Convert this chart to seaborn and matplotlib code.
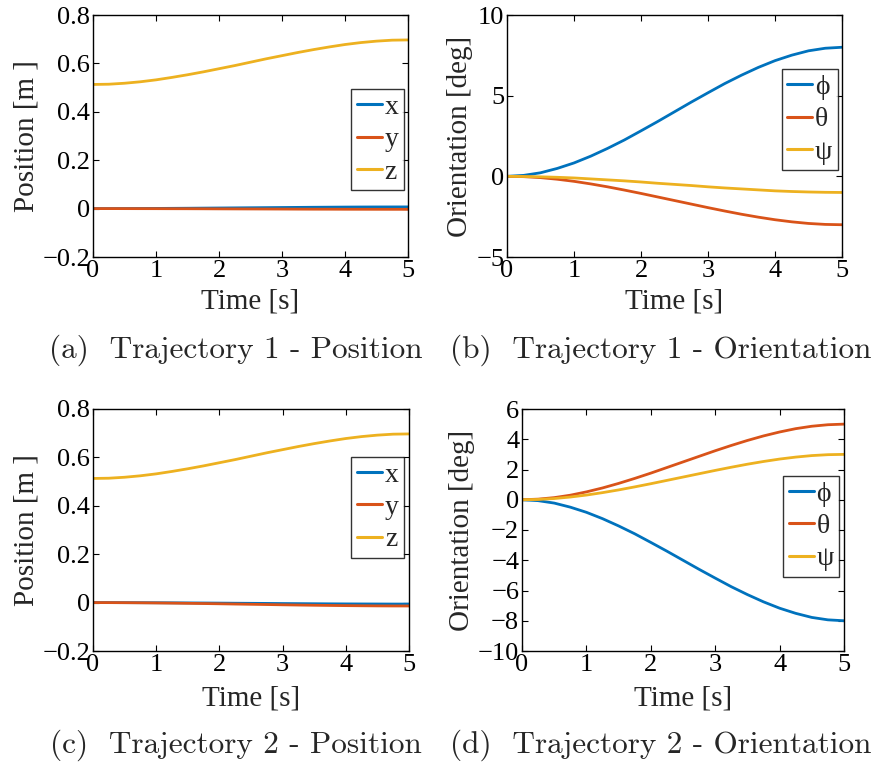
import numpy as np
import pandas as pd
import matplotlib
matplotlib.use("Agg")
import matplotlib.pyplot as plt
import seaborn as sns

# ---- data ----
time = [0.0, 0.25, 0.5, 0.75, 1.0, 1.25, 1.5, 1.75, 2.0, 2.25, 2.5,
        2.75, 3.0, 3.25, 3.5, 3.75, 4.0, 4.25, 4.5, 4.75, 5.0]

t1_x = [0.0, 0.0, 0.0002, 0.0004, 0.0007, 0.0011, 0.0015, 0.002, 0.0025, 0.003, 0.0035,
        0.004, 0.0045, 0.005, 0.0055, 0.0059, 0.0063, 0.0066, 0.0068, 0.0069, 0.007]
t1_y = [0.0, 0.0, -0.0001, -0.0002, -0.0003, -0.0005, -0.0006, -0.0008, -0.0011, -0.0013, -0.0015,
        -0.0017, -0.0019, -0.0022, -0.0024, -0.0025, -0.0027, -0.0028, -0.0029, -0.003, -0.003]
t1_z = [0.513, 0.514, 0.518, 0.524, 0.532, 0.542, 0.553, 0.565, 0.578, 0.591, 0.605,
        0.619, 0.632, 0.645, 0.657, 0.668, 0.678, 0.686, 0.692, 0.696, 0.697]

t1_phi = [0.0, 0.06, 0.22, 0.49, 0.83, 1.25, 1.73, 2.25, 2.82, 3.40, 4.0,
          4.60, 5.18, 5.75, 6.27, 6.75, 7.17, 7.51, 7.78, 7.94, 8.0]
t1_theta = [0.0, -0.02, -0.08, -0.18, -0.31, -0.47, -0.65, -0.85, -1.06, -1.28, -1.5,
            -1.72, -1.94, -2.15, -2.35, -2.53, -2.69, -2.82, -2.92, -2.98, -3.0]
t1_psi = [0.0, -0.01, -0.03, -0.06, -0.10, -0.16, -0.22, -0.28, -0.35, -0.43, -0.5,
          -0.57, -0.65, -0.72, -0.78, -0.84, -0.90, -0.94, -0.97, -0.99, -1.0]

t2_x = [0.0, 0.0, -0.0002, -0.0004, -0.0006, -0.0009, -0.0013, -0.0017, -0.0021, -0.0026, -0.003,
        -0.0034, -0.0039, -0.0043, -0.0047, -0.0051, -0.0054, -0.0056, -0.0058, -0.006, -0.006]
t2_y = [0.0, -0.0001, -0.0004, -0.0009, -0.0015, -0.0022, -0.003, -0.0039, -0.0049, -0.006, -0.007,
        -0.008, -0.0091, -0.0101, -0.011, -0.0118, -0.0125, -0.0131, -0.0136, -0.0139, -0.014]
t2_z = [0.513, 0.514, 0.518, 0.524, 0.532, 0.542, 0.553, 0.565, 0.578, 0.591, 0.605,
        0.619, 0.632, 0.645, 0.657, 0.668, 0.678, 0.686, 0.692, 0.696, 0.697]

t2_phi = [0.0, -0.06, -0.22, -0.49, -0.83, -1.25, -1.73, -2.25, -2.82, -3.40, -4.0,
          -4.60, -5.18, -5.75, -6.27, -6.75, -7.17, -7.51, -7.78, -7.94, -8.0]
t2_theta = [0.0, 0.04, 0.14, 0.30, 0.52, 0.78, 1.08, 1.41, 1.76, 2.13, 2.5,
            2.87, 3.24, 3.59, 3.92, 4.22, 4.48, 4.70, 4.86, 4.96, 5.0]
t2_psi = [0.0, 0.02, 0.08, 0.18, 0.31, 0.47, 0.65, 0.85, 1.06, 1.28, 1.5,
          1.72, 1.94, 2.15, 2.35, 2.53, 2.69, 2.82, 2.92, 2.98, 3.0]

pos_labels = ["x", "y", "z"]
ori_labels = ["\u03d5", "\u03b8", "\u03c8"]
captions = ["(a)  Trajectory 1 - Position", "(b)  Trajectory 1 - Orientation",
            "(c)  Trajectory 2 - Position", "(d)  Trajectory 2 - Orientation"]
colors = ["#0072BD", "#D95319", "#EDB120"]

sns.set_theme(style="ticks")
plt.rcParams["font.family"] = ["Liberation Serif", "DejaVu Serif"]
plt.rcParams["axes.unicode_minus"] = True

W, H = 877, 765
fig = plt.figure(figsize=(W / 100, H / 100), dpi=100)
fig.patch.set_facecolor("white")


def px_axes(l, r, t, b):
    return fig.add_axes([l / W, 1 - b / H, (r - l) / W, (b - t) / H])


def long_df(series, labels):
    frames = []
    for vals, lab in zip(series, labels):
        frames.append(pd.DataFrame({"t": time, "v": vals, "s": lab}))
    return pd.concat(frames, ignore_index=True)


panels = [
    dict(box=(93, 408, 15, 257), series=[t1_x, t1_y, t1_z], labels=pos_labels,
         ylim=(-0.2, 0.8), yticks=[-0.2, 0, 0.2, 0.4, 0.6, 0.8], ylabel="Position [m ]",
         leg=(0.987, 0.694), ytl=["\u22120.2", "0", "0.2", "0.4", "0.6", "0.8"], xpad=5),
    dict(box=(507, 842, 15, 257), series=[t1_phi, t1_theta, t1_psi], labels=ori_labels,
         ylim=(-5, 10), yticks=[-5, 0, 5, 10], ylabel="Orientation [deg]",
         leg=(0.988, 0.777), ytl=["\u22125", "0", "5", "10"], xpad=5),
    dict(box=(93, 409, 409, 651), series=[t2_x, t2_y, t2_z], labels=pos_labels,
         ylim=(-0.2, 0.8), yticks=[-0.2, 0, 0.2, 0.4, 0.6, 0.8], ylabel="Position [m ]",
         leg=(0.985, 0.803), ytl=["\u22120.2", "0", "0.2", "0.4", "0.6", "0.8"], xpad=7),
    dict(box=(522, 844, 409, 651), series=[t2_phi, t2_theta, t2_psi], labels=ori_labels,
         ylim=(-10, 6), yticks=[-10, -8, -6, -4, -2, 0, 2, 4, 6], ylabel="Orientation [deg]",
         leg=(0.986, 0.725), ytl=["\u221210", "\u22128", "\u22126", "\u22124", "\u22122", "0", "2", "4", "6"], xpad=7),
]

cap_y = [350, 350, 745, 745]
cap_x = [236, 661, 236, 661]

for i, p in enumerate(panels):
    ax = px_axes(*p["box"])
    df = long_df(p["series"], p["labels"])
    sns.lineplot(data=df, x="t", y="v", hue="s", palette=colors, ax=ax,
                 linewidth=2.0, legend=False, estimator=None, sort=False)
    ax.set_xlim(0, 5)
    ax.set_ylim(*p["ylim"])
    ax.set_xticks([0, 1, 2, 3, 4, 5])
    ax.set_yticks(p["yticks"])
    ax.set_yticklabels(p["ytl"])
    ax.tick_params(direction="in", top=True, right=True, length=4, width=0.8,
                   labelsize=19, pad=2, colors="black")
    for s in ax.spines.values():
        s.set_visible(True)
        s.set_color("black")
        s.set_linewidth(1.0)
    ax.set_xlabel("Time [s]", fontsize=21, labelpad=p["xpad"])
    ax.set_ylabel(p["ylabel"], fontsize=21, labelpad=2)
    handles = [plt.Line2D([], [], color=c, lw=2.2) for c in colors]
    leg = ax.legend(handles, p["labels"], loc="upper right", bbox_to_anchor=p["leg"],
                    borderaxespad=0, fontsize=20, frameon=True, fancybox=False,
                    handlelength=0.9, handletextpad=0.1, labelspacing=0.25,
                    borderpad=0.2)
    leg.get_frame().set_edgecolor("black")
    leg.get_frame().set_linewidth(1.0)
    fig.text(cap_x[i] / W, 1 - cap_y[i] / H, captions[i], ha="center", va="center",
             fontsize=22.5, family=["cmr10", "DejaVu Serif"])

fig.savefig("out.png", dpi=100, facecolor="white")
